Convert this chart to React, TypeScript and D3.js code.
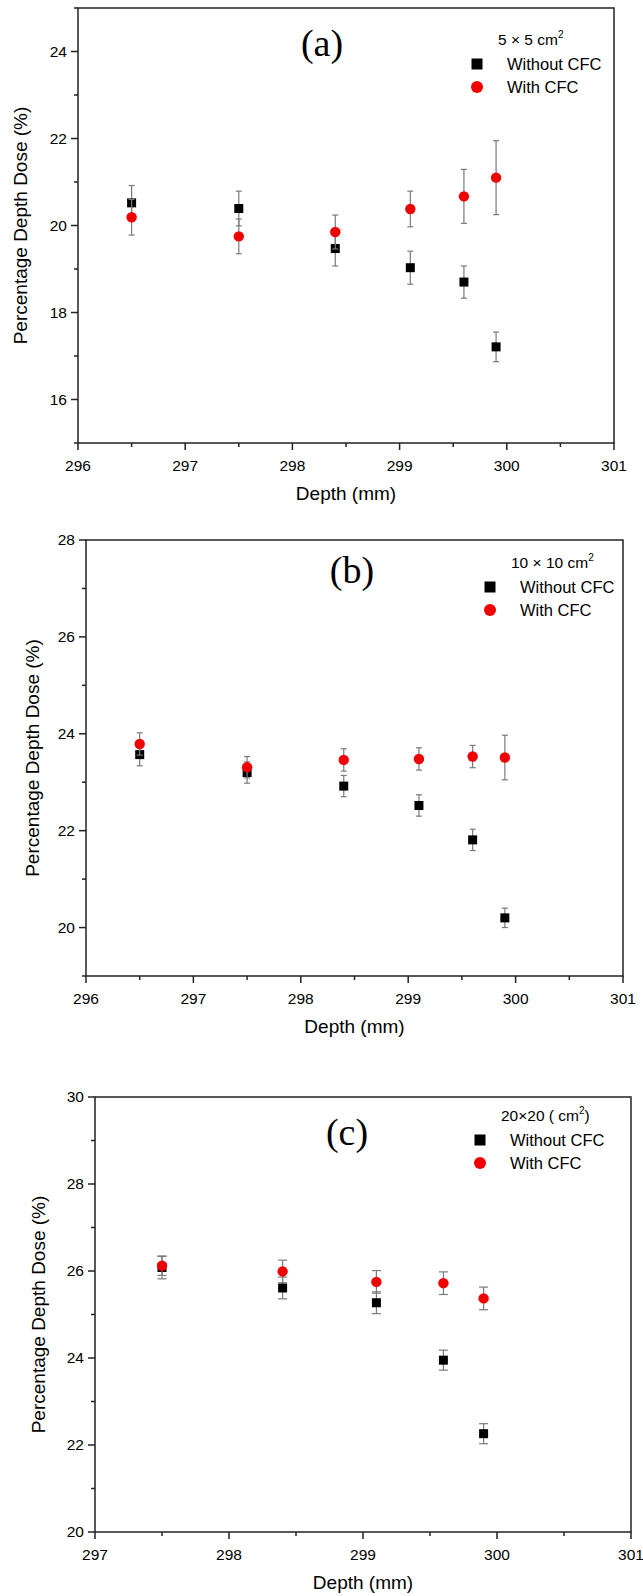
import React, { useRef, useEffect } from "react";
import * as d3 from "d3";

// depths (mm)
const depthsAB = [296.5, 297.5, 298.4, 299.1, 299.6, 299.9];
const depthsC = [297.5, 298.4, 299.1, 299.6, 299.9];

// (a) 5 x 5 cm2
const doseA_without = [20.52, 20.39, 19.47, 19.03, 18.7, 17.21];
const errA_without = [0.4, 0.4, 0.4, 0.38, 0.37, 0.34];
const doseA_with = [20.19, 19.75, 19.85, 20.38, 20.67, 21.1];
const errA_with = [0.41, 0.4, 0.39, 0.41, 0.62, 0.85];

// (b) 10 x 10 cm2
const doseB_without = [23.57, 23.2, 22.92, 22.52, 21.81, 20.2];
const errB_without = [0.23, 0.22, 0.22, 0.22, 0.22, 0.2];
const doseB_with = [23.79, 23.31, 23.46, 23.48, 23.53, 23.51];
const errB_with = [0.23, 0.22, 0.23, 0.23, 0.23, 0.46];

// (c) 20 x 20 cm2
const doseC_without = [26.08, 25.61, 25.27, 23.95, 22.26];
const errC_without = [0.26, 0.25, 0.25, 0.23, 0.23];
const doseC_with = [26.12, 25.99, 25.75, 25.72, 25.37];
const errC_with = [0.22, 0.26, 0.26, 0.26, 0.26];

const seriesNames = ["Without CFC", "With CFC"];

const panels = [
  {
    label: "(a)", title: ["5 × 5 cm", ""], depths: depthsAB,
    without: doseA_without, errWithout: errA_without, withC: doseA_with, errWith: errA_with,
    xDomain: [296, 301], yDomain: [15, 25],
    box: { left: 78, right: 614, top: 8, bottom: 443 },
    labelPos: [322, 56], legend: { x: 477, y: 40 }, yTitleX: 20, cap: 6,
  },
  {
    label: "(b)", title: ["10 × 10 cm", ""], depths: depthsAB,
    without: doseB_without, errWithout: errB_without, withC: doseB_with, errWith: errB_with,
    xDomain: [296, 301], yDomain: [19, 28],
    box: { left: 86, right: 623, top: 540, bottom: 976 },
    labelPos: [352, 583], legend: { x: 490, y: 563 }, yTitleX: 32, cap: 6,
  },
  {
    label: "(c)", title: ["20×20 ( cm", ")"], depths: depthsC,
    without: doseC_without, errWithout: errC_without, withC: doseC_with, errWith: errC_with,
    xDomain: [297, 301], yDomain: [20, 30],
    box: { left: 95, right: 631, top: 1097, bottom: 1532 },
    labelPos: [347, 1145], legend: { x: 480, y: 1116 }, yTitleX: 38, cap: 9,
  },
];

export default function App() {
  const ref = useRef(null);

  useEffect(() => {
    const svg = d3.select(ref.current);
    svg.selectAll("*").remove();
    const font = "'Liberation Sans', Arial, sans-serif";

    panels.forEach((p) => {
      const { left, right, top, bottom } = p.box;
      const x = d3.scaleLinear().domain(p.xDomain).range([left, right]);
      const y = d3.scaleLinear().domain(p.yDomain).range([bottom, top]);
      const g = svg.append("g");

      // frame
      g.append("rect")
        .attr("x", left).attr("y", top)
        .attr("width", right - left).attr("height", bottom - top)
        .attr("fill", "none").attr("stroke", "#222").attr("stroke-width", 1.5);

      // x axis ticks
      const xMajor = d3.range(p.xDomain[0], p.xDomain[1] + 0.01, 1);
      const xMinor = d3.range(p.xDomain[0] + 0.5, p.xDomain[1], 1);
      g.selectAll(".xmaj").data(xMajor).enter().append("line")
        .attr("x1", d => x(d)).attr("x2", d => x(d))
        .attr("y1", bottom).attr("y2", bottom + 7)
        .attr("stroke", "#222").attr("stroke-width", 1.5);
      g.selectAll(".xmin").data(xMinor).enter().append("line")
        .attr("x1", d => x(d)).attr("x2", d => x(d))
        .attr("y1", bottom).attr("y2", bottom + 4)
        .attr("stroke", "#222").attr("stroke-width", 1.5);
      g.selectAll(".xlab").data(xMajor).enter().append("text")
        .attr("x", d => x(d)).attr("y", bottom + 28)
        .attr("text-anchor", "middle")
        .style("font-family", font).style("font-size", "15.5px")
        .text(d => d3.format("d")(d));

      // y axis ticks
      const yAll = d3.range(p.yDomain[0], p.yDomain[1] + 0.01, 1);
      g.selectAll(".ytick").data(yAll).enter().append("line")
        .attr("x1", left).attr("x2", d => left - (d % 2 === 0 ? 7 : 4))
        .attr("y1", d => y(d)).attr("y2", d => y(d))
        .attr("stroke", "#222").attr("stroke-width", 1.5);
      g.selectAll(".ylab").data(yAll.filter(d => d % 2 === 0)).enter().append("text")
        .attr("x", left - 11).attr("y", d => y(d))
        .attr("dy", "0.35em").attr("text-anchor", "end")
        .style("font-family", font).style("font-size", "15.5px")
        .text(d => d);

      // axis titles
      g.append("text")
        .attr("x", (left + right) / 2).attr("y", bottom + 57)
        .attr("text-anchor", "middle")
        .style("font-family", font).style("font-size", "19px")
        .text("Depth (mm)");
      g.append("text")
        .attr("transform", `translate(${p.yTitleX},${(top + bottom) / 2}) rotate(-90)`)
        .attr("text-anchor", "middle").attr("dy", "0.35em")
        .style("font-family", font).style("font-size", "19px")
        .text("Percentage Depth Dose (%)");

      // panel label
      g.append("text")
        .attr("x", p.labelPos[0]).attr("y", p.labelPos[1])
        .attr("text-anchor", "middle")
        .style("font-family", "'Liberation Serif', 'Times New Roman', serif")
        .style("font-size", "38px")
        .text(p.label);

      // error bars + markers
      const drawSeries = (vals, errs, kind) => {
        const pts = p.depths.map((d, i) => ({ d, v: vals[i], e: errs[i] }));
        const eb = g.append("g").attr("stroke", "#7a7a7a").attr("stroke-width", 1.2);
        pts.forEach(pt => {
          eb.append("line").attr("x1", x(pt.d)).attr("x2", x(pt.d))
            .attr("y1", y(pt.v - pt.e)).attr("y2", y(pt.v + pt.e));
          [pt.v - pt.e, pt.v + pt.e].forEach(v => {
            eb.append("line")
              .attr("x1", x(pt.d) - p.cap / 2).attr("x2", x(pt.d) + p.cap / 2)
              .attr("y1", y(v)).attr("y2", y(v));
          });
        });
        if (kind === "square") {
          g.selectAll(null).data(pts).enter().append("rect")
            .attr("x", pt => x(pt.d) - 4.5).attr("y", pt => y(pt.v) - 4.5)
            .attr("width", 9).attr("height", 9)
            .attr("fill", "#000");
        } else {
          g.selectAll(null).data(pts).enter().append("circle")
            .attr("cx", pt => x(pt.d)).attr("cy", pt => y(pt.v))
            .attr("r", 5.2).attr("fill", "#f00000");
        }
      };
      drawSeries(p.without, p.errWithout, "square");
      drawSeries(p.withC, p.errWith, "circle");

      // legend
      const lg = g.append("g");
      const lt = lg.append("text")
        .attr("x", p.legend.x + 21).attr("y", p.legend.y + 5)
        .style("font-family", font).style("font-size", "15.5px");
      lt.append("tspan").text(p.title[0]);
      lt.append("tspan").attr("dy", -7).style("font-size", "10px").text("2");
      if (p.title[1]) lt.append("tspan").attr("dy", 7).text(p.title[1]);

      lg.append("rect")
        .attr("x", p.legend.x - 5.5).attr("y", p.legend.y + 24 - 5.5)
        .attr("width", 11).attr("height", 11).attr("fill", "#000");
      lg.append("circle")
        .attr("cx", p.legend.x).attr("cy", p.legend.y + 47)
        .attr("r", 6).attr("fill", "#f00000");
      seriesNames.forEach((n, i) => {
        lg.append("text")
          .attr("x", p.legend.x + 30).attr("y", p.legend.y + 24 + i * 23)
          .attr("dy", "0.35em")
          .style("font-family", font).style("font-size", "16.5px")
          .text(n);
      });
    });
  }, []);

  return (
    <svg ref={ref} width={643} height={1596}
      style={{ position: "absolute", left: 0, top: 0, background: "#fff" }} />
  );
}
